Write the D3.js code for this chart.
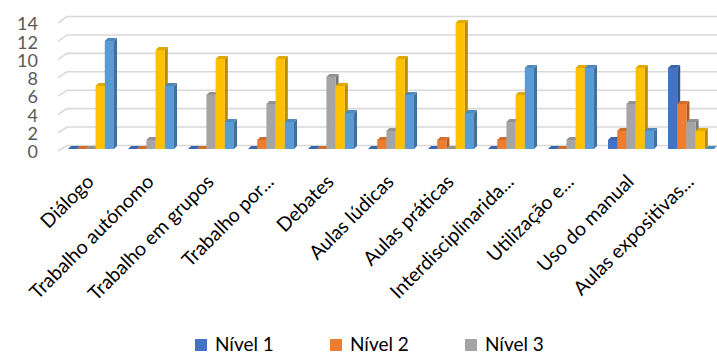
<!DOCTYPE html>
<meta charset="utf-8">
<style>
body { margin: 0; background: #fff; }
text { font-family: Lato, "Open Sans", sans-serif; }
</style>
<svg width="717" height="354"></svg>
<script src="https://d3js.org/d3.v7.min.js"></script>
<script>
"use strict";

// data
var categories = ["Diálogo", "Trabalho autónomo", "Trabalho em grupos", "Trabalho por...",
  "Debates", "Aulas lúdicas", "Aulas práticas", "Interdisciplinarida...",
  "Utilização e...", "Uso do manual", "Aulas expositivas..."];
var seriesNames = ["Nível 1", "Nível 2", "Nível 3", "Nível 4", "Nível 5"];
var nivel1 = [0, 0, 0, 0, 0, 0, 0, 0, 0, 1, 9];
var nivel2 = [0, 0, 0, 1, 0, 1, 1, 1, 0, 2, 5];
var nivel3 = [0, 1, 6, 5, 8, 2, 0, 3, 1, 5, 3];
var nivel4 = [7, 11, 10, 10, 7, 10, 14, 6, 9, 9, 2];
var nivel5 = [12, 7, 3, 3, 4, 6, 4, 9, 9, 2, 0];
var yTicks = [0, 2, 4, 6, 8, 10, 12, 14];
var colors = ["#4472c4", "#ed7d31", "#a5a5a5", "#ffc000", "#5b9bd5"];

var values = [nivel1, nivel2, nivel3, nivel4, nivel5];

var svg = d3.select("svg");

// scales
var x0 = d3.scaleBand().domain(categories).range([54, 728]).paddingInner(0.233).paddingOuter(0.233);
var x1 = d3.scaleBand().domain(seriesNames).range([0, x0.bandwidth()]);
var yFront = d3.scaleLinear().domain([0, 14]).range([149, 23]);   // bar fronts
var yBack = d3.scaleLinear().domain([0, 14]).range([145.5, 16.5]); // back wall
var yEdge = d3.scaleLinear().domain([0, 14]).range([151, 23]);    // left floor edge

var depth = 3;

// gridlines (with slanted left part)
svg.append("g").selectAll("polyline")
  .data(yTicks)
  .enter().append("polyline")
    .attr("fill", "none")
    .attr("stroke", "#d9d9d9")
    .attr("stroke-width", 1.6)
    .attr("points", function(d) {
      return [[58, yEdge(d)], [67, yBack(d)], [717, yBack(d)]].join(" ");
    });

// y labels
svg.append("g").selectAll("text")
  .data(yTicks)
  .enter().append("text")
    .attr("x", 38)
    .attr("y", function(d) { return yEdge(d) + 1; })
    .attr("dy", "0.35em")
    .attr("text-anchor", "end")
    .attr("fill", "#595959")
    .attr("font-size", 18)
    .text(function(d) { return d; });

// bars
var groups = svg.append("g").selectAll("g")
  .data(categories)
  .enter().append("g")
    .attr("transform", function(d) { return "translate(" + x0(d) + ",0)"; });

groups.each(function(cat, ci) {
  var g = d3.select(this);
  seriesNames.forEach(function(s, si) {
    var v = values[si][ci];
    var bx = x1(s), bw = x1.bandwidth();
    var top = yFront(v), base = yFront(0);
    var c = d3.color(colors[si]);
    // side face
    g.append("path")
      .attr("d", "M" + (bx + bw) + "," + top + "L" + (bx + bw + depth) + "," + (top - depth) +
        "L" + (bx + bw + depth) + "," + (base - depth) + "L" + (bx + bw) + "," + base + "Z")
      .attr("fill", c.darker(0.9));
    // front face
    g.append("rect")
      .attr("x", bx).attr("y", top)
      .attr("width", bw).attr("height", base - top)
      .attr("fill", colors[si]);
    // top face
    g.append("path")
      .attr("d", "M" + bx + "," + top + "L" + (bx + depth) + "," + (top - depth) +
        "L" + (bx + bw + depth) + "," + (top - depth) + "L" + (bx + bw) + "," + top + "Z")
      .attr("fill", c.darker(0.35));
  });
});

// x labels
svg.append("g").selectAll("text")
  .data(categories)
  .enter().append("text")
    .attr("transform", function(d) {
      return "translate(" + (x0(d) + x0.bandwidth() / 2 + 4) + ",183) rotate(-45)";
    })
    .attr("text-anchor", "end")
    .attr("fill", "#000")
    .attr("font-size", 19.5)
    .text(function(d) { return d; });

// legend (second row falls below the visible area, as in the original)
var legend = svg.append("g").selectAll("g")
  .data(seriesNames)
  .enter().append("g")
    .attr("transform", function(d, i) {
      return "translate(" + (195 + (i % 3) * 135) + "," + (339 + Math.floor(i / 3) * 30) + ")";
    });

legend.append("rect")
  .attr("width", 12).attr("height", 12)
  .attr("fill", function(d, i) { return colors[i]; });

legend.append("text")
  .attr("x", 20).attr("y", 12)
  .attr("font-size", 19)
  .attr("fill", "#000")
  .text(function(d) { return d; });
</script>
